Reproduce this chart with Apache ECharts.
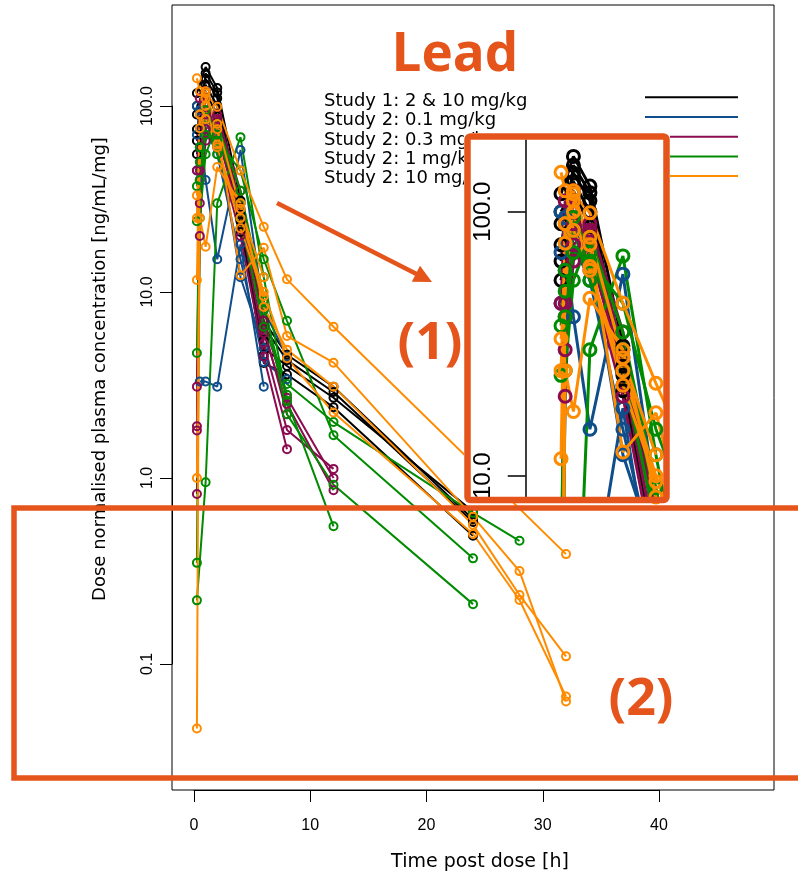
<!DOCTYPE html>
<html><head><meta charset="utf-8">
<script src="https://cdn.jsdelivr.net/npm/echarts@6/dist/echarts.min.js"></script>
<style>html,body{margin:0;padding:0;background:#fff}#c{width:798px;height:876px}</style>
</head><body><div id="c"></div>
<script>
// ---- data (time grid in hours; dose-normalised concentration ng/mL/mg, null = not measured) ----
const TIMES = [0.25, 0.5, 1, 2, 4, 6, 8, 12, 24, 28, 32];

const study1 = [ // Study 1: 2 & 10 mg/kg
  [117, null, 162, 125, 31, 6.5, 4.3, 2.9, 0.58, null, null],
  [65, null, 150, 118, 24, 4.15, 3.6, 2.4, 0.49, null, null],
  [90, null, 140, 110, 26, 5.0, 4.0, 2.7, 0.66, null, null],
  [75, null, 130, 100, 22, 5.5, null, null, null, null, null],
  [100, null, 120, 88, 21, 4.6, null, null, null, null, null],
  [55, null, 110, 80, 25, 7.0, 4.6, 3.1, 0.6, null, null]
];
const study2_01 = [ // Study 2: 0.1 mg/kg
  [100, null, 40, 15, 58, 8, 4.5, null, null, null, null],
  [null, 3.3, 3.3, 3.1, 18, 3.1, null, null, null, null, null],
  [70, 95, 75, 55, 15, 4.2, 3.4, null, null, null, null],
  [45, 60, 85, 70, 12, 5, null, null, null, null, null]
];
const study2_03 = [ // Study 2: 0.3 mg/kg
  [3.1, 45, 90, 70, 25, 5.3, 1.81, 1.12, null, null, null],
  [1.9, 40, 75, 85, 30, 6, 2.5, 0.86, null, null, null],
  [1.8, 20, 120, 60, 20, 4.5, 1.43, null, null, null, null],
  [0.82, 30, 65, 90, 35, 7, 2.7, 1.0, null, null, null],
  [45, 110, 95, 75, 28, 6.5, 2.2, null, null, null, null]
];
const study2_1 = [ // Study 2: 1 mg/kg
  [0.22, null, 0.95, 30, 68, 12, 2.6, 0.55, null, null, null],
  [0.35, 25, 55, 80, 35, 9, 2.2, 0.92, 0.21, null, null],
  [4.7, 40, 70, 65, 45, 15, 7.0, 1.7, 0.37, null, null],
  [24, 50, 85, 55, 25, 6.5, 3.2, 2.0, 0.65, 0.46, null],
  [37, 60, 95, 70, 30, 8, 2.8, null, null, null, null]
];
const study2_10 = [ // Study 2: 10 mg/kg
  [33, null, 117, 99, 45, 22.4, 11.7, 6.5, null, null, 0.39],
  [0.045, 90, 120, 75, 12.3, 17.3, 5.8, 4.17, 0.62, 0.316, 0.063],
  [1.0, 25, 17.5, 47, 30, 8.3, 4.9, 3.1, 0.56, 0.235, 0.11],
  [11.6, 90, 100, 60, 25, 10, 4.4, 2.25, 0.5, 0.221, 0.067],
  [25, 76, 110, 80, 28, 12, null, null, null, null, null],
  [141, 120, 85, 62, 22, 9.5, null, null, null, null, null]
];

const legendLabels = ['Study 1: 2 & 10 mg/kg', 'Study 2: 0.1 mg/kg', 'Study 2: 0.3 mg/kg', 'Study 2: 1 mg/kg', 'Study 2: 10 mg/kg'];
const groupColors = ['#000000', '#104E8B', '#8B0A50', '#008B00', '#FF8C00'];
const xTicks = [0, 10, 20, 30, 40];
const yTicks = [0.1, 1, 10, 100];
const yTickLabels = ['0.1', '1.0', '10.0', '100.0'];
const titleText = 'Lead';
const xTitle = 'Time post dose [h]';
const yTitle = 'Dose normalised plasma concentration [ng/mL/mg]';
const note1 = '(1)';
const note2 = '(2)';

// ---- chart ----
const ACC = '#E5541B';
const groups = [study1, study2_01, study2_03, study2_1, study2_10];
function toPairs(vals) {
  return TIMES.map((t, i) => [t, vals[i]]).filter(p => p[1] !== null);
}
function yLabel(v) {
  const k = Math.round(Math.log10(v));
  const idx = yTicks.findIndex(t => Math.round(Math.log10(t)) === k);
  return idx >= 0 ? yTickLabels[idx] : '';
}
const series = [];
function addSeries(gridAxis, symSize, lw, z) {
  groups.forEach((subs, gi) => {
    subs.forEach(vals => {
      series.push({
        type: 'line',
        xAxisIndex: gridAxis, yAxisIndex: gridAxis,
        data: toPairs(vals),
        symbol: 'circle', symbolSize: symSize, showSymbol: true,
        lineStyle: { color: groupColors[gi], width: lw },
        itemStyle: { color: 'rgba(0,0,0,0)', borderColor: groupColors[gi], borderWidth: lw },
        emphasis: { disabled: true },
        silent: true, clip: true, z: z, animation: false
      });
    });
  });
}
addSeries(0, 8, 2, 2);
addSeries(2, 12, 3, 20);

const XMIN = -1.892, XMAX = 49.89, YMIN = 0.02104, YMAX = 349;
const INX_MAX = 6.43, INY_MIN = 8.305, INY_MAX = 186.9;
const FONT = 'DejaVu Sans';
const TFONT = 'Liberation Sans';

const graphics = [];
legendLabels.forEach((t, i) => {
  graphics.push({ type: 'text', x: 324, y: 101.5 + i * 19.2, z: 5, silent: true,
    style: { text: t, fontSize: 18, fontFamily: FONT, fill: '#000', align: 'left', verticalAlign: 'middle', textAlign: 'left', textVerticalAlign: 'middle' } });
  graphics.push({ type: 'line', z: 5, silent: true,
    shape: { x1: 645, y1: 97.3 + i * 19.7, x2: 738, y2: 97.3 + i * 19.7 },
    style: { stroke: groupColors[i], lineWidth: 2 } });
});
// inset background and frame
graphics.push({ type: 'rect', z: 10, silent: true, shape: { x: 464, y: 133, width: 206, height: 370 }, style: { fill: '#fff' } });
graphics.push({ type: 'rect', z: 30, silent: true, shape: { x: 467.5, y: 136.5, width: 199, height: 363.5, r: 3 }, style: { fill: 'none', stroke: ACC, lineWidth: 6.5 } });
// region (2)
graphics.push({ type: 'rect', z: 30, silent: true, shape: { x: 14, y: 508, width: 820, height: 270 }, style: { fill: 'none', stroke: ACC, lineWidth: 5.5 } });
// arrow
graphics.push({ type: 'line', z: 30, silent: true, shape: { x1: 277, y1: 203, x2: 417, y2: 274.3 }, style: { stroke: ACC, lineWidth: 4.5 } });
graphics.push({ type: 'polygon', z: 30, silent: true, shape: { points: [[432, 282], [411.8, 281.8], [420.0, 265.8]] }, style: { fill: ACC } });
// texts
graphics.push({ type: 'text', x: 455, y: 56, z: 40, silent: true,
  style: { text: titleText, fontSize: 53, fontWeight: 'bold', fontFamily: 'Open Sans', fill: ACC, align: 'center', verticalAlign: 'middle', textAlign: 'center', textVerticalAlign: 'middle' } });
graphics.push({ type: 'text', x: 430, y: 344, z: 40, silent: true,
  style: { text: note1, fontSize: 52, fontWeight: 'bold', fontFamily: 'Open Sans', fill: ACC, align: 'center', verticalAlign: 'middle', textAlign: 'center', textVerticalAlign: 'middle' } });
graphics.push({ type: 'text', x: 641, y: 700, z: 40, silent: true,
  style: { text: note2, fontSize: 52, fontWeight: 'bold', fontFamily: 'Open Sans', fill: ACC, align: 'center', verticalAlign: 'middle', textAlign: 'center', textVerticalAlign: 'middle' } });
graphics.push({ type: 'text', x: 480, y: 862, z: 5, silent: true,
  style: { text: xTitle, fontSize: 19, fontFamily: FONT, fill: '#000', align: 'center', verticalAlign: 'middle', textAlign: 'center', textVerticalAlign: 'middle' } });
graphics.push({ type: 'text', x: 100, y: 369, rotation: Math.PI / 2, z: 5, silent: true,
  style: { text: yTitle, fontSize: 18, fontFamily: FONT, fill: '#000', align: 'center', verticalAlign: 'middle', textAlign: 'center', textVerticalAlign: 'middle' } });

const chart = echarts.init(document.getElementById('c'), null, { renderer: 'canvas' });
chart.setOption({
  animation: false,
  backgroundColor: '#fff',
  grid: [
    { left: 172, right: 24, top: 5, bottom: 86, show: true, borderColor: '#000', borderWidth: 1, backgroundColor: 'transparent' },
    { left: 194, right: 139, top: 106, bottom: 212 },
    { left: 525.7, right: 135, top: 140, bottom: 379 },
    { left: 525.7, width: 100, top: 211.7, bottom: 400.3 }
  ],
  xAxis: [
    { type: 'value', gridIndex: 0, min: XMIN, max: XMAX, show: false },
    { type: 'value', gridIndex: 1, min: xTicks[0], max: xTicks[xTicks.length - 1], interval: 10, position: 'bottom', offset: 126,
      axisLine: { show: true, onZero: false, lineStyle: { color: '#000', width: 1 } },
      axisTick: { show: true, inside: false, length: 12, lineStyle: { color: '#000', width: 1 } },
      axisLabel: { show: true, margin: 28, fontSize: 16, fontFamily: TFONT, color: '#000' },
      splitLine: { show: false } },
    { type: 'value', gridIndex: 2, min: XMIN, max: INX_MAX, show: false },
    { type: 'value', gridIndex: 3, min: 0, max: 1, show: false }
  ],
  yAxis: [
    { type: 'log', gridIndex: 0, min: YMIN, max: YMAX, show: false },
    { type: 'log', gridIndex: 1, min: yTicks[0], max: yTicks[yTicks.length - 1], position: 'left', offset: 22,
      axisLine: { show: true, onZero: false, lineStyle: { color: '#000', width: 1 } },
      axisTick: { show: true, inside: false, length: 12, lineStyle: { color: '#000', width: 1 } },
      axisLabel: { show: true, rotate: 90, margin: 16, fontSize: 16, fontFamily: TFONT, color: '#000', formatter: yLabel },
      splitLine: { show: false }, minorTick: { show: false } },
    { type: 'log', gridIndex: 2, min: INY_MIN, max: INY_MAX, position: 'left', z: 21,
      axisLine: { show: true, onZero: false, lineStyle: { color: '#000', width: 1.5 } },
      axisTick: { show: false }, axisLabel: { show: false }, splitLine: { show: false } },
    { type: 'log', gridIndex: 3, min: 10, max: 100, position: 'left', z: 21,
      axisLine: { show: false, onZero: false },
      axisTick: { show: true, inside: false, length: 18, lineStyle: { color: '#000', width: 1.5 } },
      axisLabel: { show: true, rotate: 90, margin: 30, fontSize: 24, fontFamily: TFONT, color: '#000', formatter: yLabel },
      splitLine: { show: false } }
  ],
  graphic: { elements: graphics },
  series: series
});
</script>
</body></html>
